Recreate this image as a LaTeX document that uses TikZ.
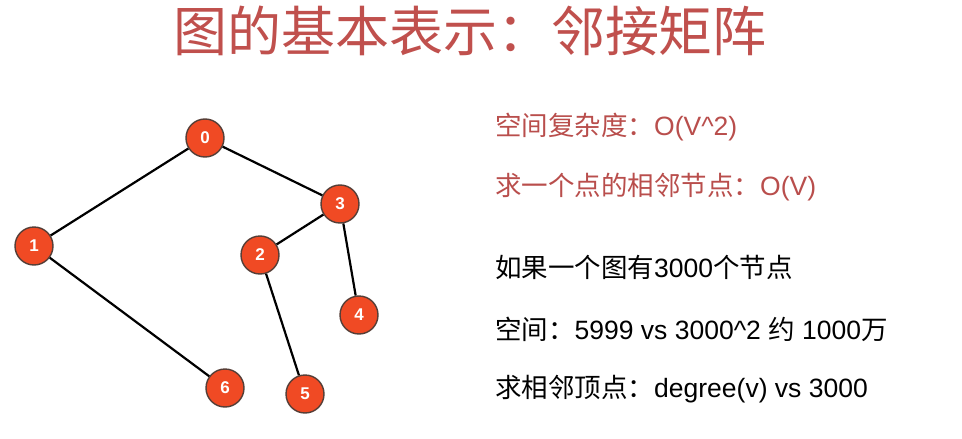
\documentclass[tikz,border=0pt]{standalone}
\usepackage{fontspec}
\setmainfont{Liberation Sans}
\newfontfamily\cjk{Noto Sans CJK SC}
\begin{document}
\definecolor{titlered}{RGB}{192,80,77}
\definecolor{notered}{RGB}{185,78,76}
\definecolor{vfill}{RGB}{240,74,36}
\definecolor{vborder}{RGB}{85,62,55}
\begin{tikzpicture}[x=1pt,y=-1pt,
  vertex/.style={circle,fill=vfill,draw=vborder,line width=1.4pt,minimum size=38pt,inner sep=0pt,
    text=white,font=\fontsize{17}{17}\selectfont\bfseries},
  edge/.style={line width=2.2pt,black},
  note/.style={anchor=west,inner sep=0pt,font=\fontsize{26.5}{26.5}\selectfont}]
\useasboundingbox (0,0) rectangle (962,439);
\fill[white] (0,0) rectangle (962,439);

% title
\node[text=titlered,font=\cjk\fontsize{54}{54}\selectfont,inner sep=0pt] (title) at (470,31) {图的基本表示：邻接矩阵};

% graph
\node[vertex] (v0) at (205,138) {0};
\node[vertex] (v1) at (34,246) {1};
\node[vertex] (v2) at (260,255) {2};
\node[vertex] (v3) at (340,204) {3};
\node[vertex] (v4) at (359,315) {4};
\node[vertex] (v5) at (305,394) {5};
\node[vertex] (v6) at (225,388) {6};
\draw[edge] (v0) -- (v1);
\draw[edge] (v0) -- (v3);
\draw[edge] (v3) -- (v2);
\draw[edge] (v3) -- (v4);
\draw[edge] (v2) -- (v5);
\draw[edge] (v1) -- (v6);

% complexity notes
\node[note,text=notered] (n1) at (495,127) {{\cjk 空间复杂度：}O(V\^{}2)};
\node[note,text=notered] (n2) at (495,187) {{\cjk 求一个点的相邻节点：}O(V)};
\node[note] (n3) at (495,267) {{\cjk 如果一个图有}3000{\cjk 个节点}};
\node[note] (n4) at (495,329) {{\cjk 空间：}5999 vs 3000\^{}2 {\cjk 约} 1000{\cjk 万}};
\node[note] (n5) at (495,389) {{\cjk 求相邻顶点：}degree(v) vs 3000};
\end{tikzpicture}
\end{document}
